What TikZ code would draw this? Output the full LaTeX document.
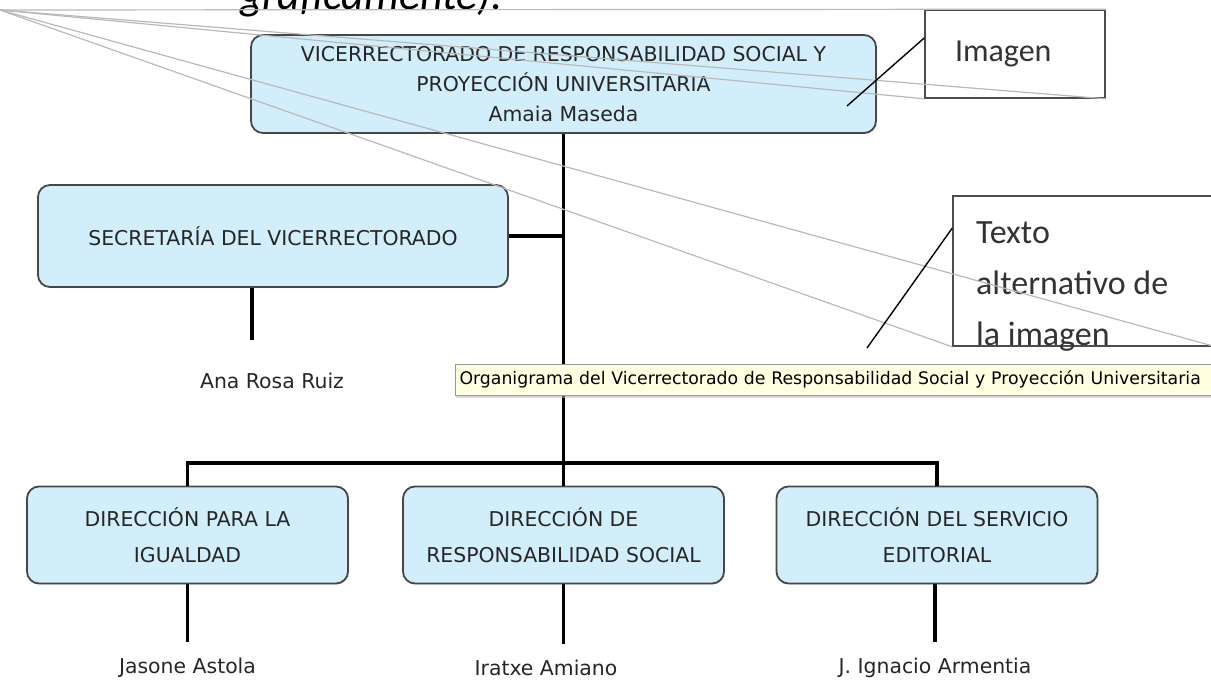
\documentclass[tikz,border=0pt]{standalone}
\usepackage{fontspec}
\setmainfont{DejaVu Sans}
\newfontfamily\calibri{Carlito}
\usepackage{tikz}
\usetikzlibrary{shapes,shadows,arrows}
\definecolor{boxblue}{RGB}{211,238,251}
\definecolor{tipyellow}{RGB}{255,255,225}
\tikzstyle{block} = [draw=black!72,line width=1.8pt,rounded corners=12pt,fill=boxblue,align=center,text=black!85,font=\fontsize{20.4}{30}\selectfont,drop shadow={shadow xshift=1pt,shadow yshift=-1pt,opacity=0.25}]
\tikzstyle{line} = [draw,line width=3.5pt]
\tikzstyle{dropLine} = [draw,line width=3.5pt,shorten >=13pt]
\tikzstyle{person} = [text=black!85,font=\fontsize{20.4}{24}\selectfont]
\tikzstyle{calloutBox} = [draw=black!70,line width=1.6pt]
\tikzstyle{calloutText} = [text=black!80,font=\calibri\fontsize{34}{51}\selectfont]
\tikzstyle{perspLine} = [draw=gray!55,line width=1.2pt]
\tikzstyle{ptrLine} = [draw,line width=1.4pt]
\tikzstyle{tooltip} = [draw=gray!80,fill=tipyellow,line width=1pt,drop shadow={shadow xshift=0pt,shadow yshift=-3pt,fill=gray!60}]

\begin{document}
\begin{tikzpicture}[x=1pt,y=-1pt]
		\useasboundingbox (0,0) rectangle (1211,682);
		\node[anchor=base west,inner sep=0pt,font=\calibri\itshape\fontsize{44}{44}\selectfont](titleTail) at (240,10){gráficamente).};
		\node[block,minimum width=625pt,minimum height=98pt](vicerrectorado) at (563.5,84){VICERRECTORADO DE RESPONSABILIDAD SOCIAL Y\\PROYECCIÓN UNIVERSITARIA\\Amaia Maseda};
		\node[block,minimum width=470pt,minimum height=102pt](secretaria) at (273,236){SECRETARÍA DEL VICERRECTORADO};
		\node[block,font=\fontsize{20.4}{36}\selectfont,minimum width=321pt,minimum height=97pt](igualdad) at (187.5,535){DIRECCIÓN PARA LA\\IGUALDAD};
		\node[block,font=\fontsize{20.4}{36}\selectfont,minimum width=321pt,minimum height=97pt](responsabilidad) at (563.5,535){DIRECCIÓN DE\\RESPONSABILIDAD SOCIAL};
		\node[block,font=\fontsize{20.4}{36}\selectfont,minimum width=321pt,minimum height=97pt](editorial) at (937,535){DIRECCIÓN DEL SERVICIO\\EDITORIAL};
		\node[person](anaRosa) at (272,381){Ana Rosa Ruiz};
		\node[person](jasone) at (187.5,668){Jasone Astola};
		\node[person](iratxe) at (546,668){Iratxe Amiano};
		\node[person](ignacio) at (935,668){J. Ignacio Armentia};
		\coordinate (bar) at (563.5,463);
		\coordinate (anaDrop) at (252,340);
		%lines
		\path[line](vicerrectorado)--(responsabilidad);
		\path[line](secretaria.east)--(secretaria.east -| vicerrectorado.south);
		\path[line](igualdad.north)|-(bar)-|(editorial.north);
		\path[line](anaDrop |- secretaria.south)--(anaDrop);
		\path[dropLine](igualdad)--(jasone);
		\path[dropLine](responsabilidad.south)--(responsabilidad.south |- iratxe.north);
		\path[dropLine](editorial.south -| ignacio)--(ignacio);
		%tooltip and callouts
		\node[tooltip,anchor=west,minimum height=31pt,text width=800pt,inner xsep=4pt,align=left,font=\fontsize{17.3}{20}\selectfont](organigrama) at (455,379.5){Organigrama del Vicerrectorado de Responsabilidad Social y Proyección Universitaria};
		\node[calloutBox,calloutText,font=\calibri\fontsize{32}{38}\selectfont,minimum width=180pt,minimum height=88pt,text width=120pt,inner xsep=30pt,align=left](imagen) at (1015,54){Imagen};
		\node[calloutBox,minimum width=262pt,minimum height=150pt](texto) at (1084,271){};
		\node[calloutText,anchor=north west,align=left,inner sep=0pt](textoLabel) at (976,221){Texto\\alternativo de\\la imagen};
		\coordinate (vp) at (0,10);
		\coordinate (imagenTip) at (847,106);
		\coordinate (textoTip) at (867,348);
		\path[perspLine](vp)--(imagen.north east);
		\path[perspLine](vp)--(imagen.south west);
		\path[perspLine](vp)--(imagen.south east);
		\path[perspLine](vp)--(texto.south west);
		\path[perspLine](vp)--(texto.south east);
		\path[ptrLine](imagenTip)--(imagen.170);
		\path[ptrLine](textoTip)--(texto.162);
	\end{tikzpicture}
\end{document}
